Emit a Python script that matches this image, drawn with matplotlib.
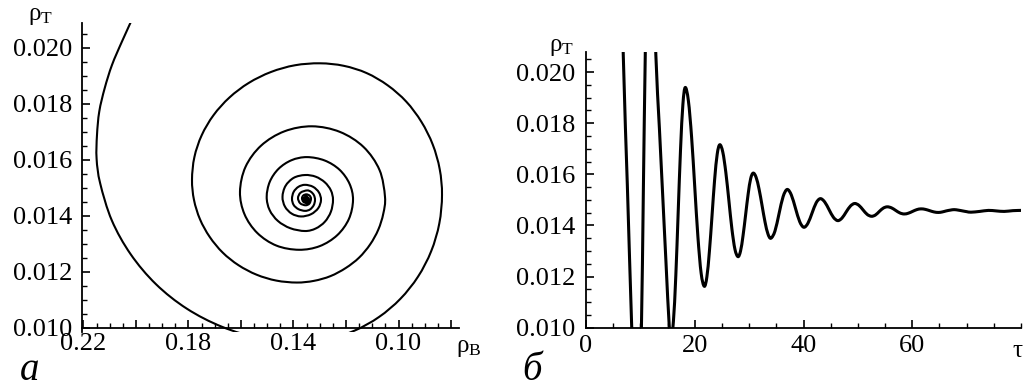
import matplotlib
matplotlib.use("Agg")
import matplotlib.pyplot as plt
from matplotlib.path import Path
from matplotlib.patches import PathPatch
from matplotlib.ticker import FixedLocator, MultipleLocator, FuncFormatter

plt.rcParams['font.family'] = ['Liberation Serif', 'DejaVu Serif']
plt.rcParams['mathtext.fontset'] = 'custom'
plt.rcParams['mathtext.rm'] = 'Liberation Serif'
plt.rcParams['mathtext.it'] = 'Liberation Serif:italic'

# ---- panel a: phase trajectory (rho_B, rho_T), read along the spiral ----
phase_rhoB = [0.20054, 0.20530, 0.20911, 0.21189, 0.21395, 0.21482, 0.21497, 0.21360, 0.20918, 0.20199,
              0.19235, 0.18066, 0.16722, 0.15264, 0.13752, 0.12697, 0.11680, 0.10743, 0.09928, 0.09258,
              0.08756, 0.08447, 0.08344, 0.08432, 0.08698, 0.09129, 0.09704, 0.10408, 0.11212, 0.12084,
              0.12990,
              0.13942, 0.14856, 0.15701, 0.16436, 0.17042, 0.17495, 0.17773, 0.17864, 0.17788, 0.17560,
              0.17190, 0.16695, 0.16094, 0.15404, 0.14654, 0.13877, 0.13222, 0.12590, 0.12008, 0.11501,
              0.11082, 0.10770, 0.10580, 0.10515,
              0.10724, 0.11330, 0.12232, 0.13295, 0.14346, 0.15233, 0.15827, 0.16037, 0.15865, 0.15378,
              0.14650, 0.13790, 0.13002, 0.12335, 0.11890, 0.11733, 0.11867, 0.12248, 0.12815, 0.13485,
              0.14072, 0.14570, 0.14902, 0.15020, 0.14909, 0.14593, 0.14121, 0.13561, 0.13154, 0.12807,
              0.12575, 0.12495, 0.12575, 0.12807, 0.13154, 0.13561, 0.13990, 0.14304, 0.14418, 0.14323,
              0.14066, 0.13714, 0.13333, 0.13055, 0.12952, 0.13032, 0.13257, 0.13561, 0.13809, 0.13992,
              0.14056, 0.13992, 0.13809, 0.13561, 0.13371, 0.13230, 0.13180, 0.13222, 0.13333, 0.13485,
              0.13729, 0.13828, 0.13744, 0.13542, 0.13394, 0.13333, 0.13382, 0.13504, 0.13626, 0.13676,
              0.13630, 0.13523, 0.13443, 0.13409, 0.13523, 0.13618, 0.13523, 0.13447, 0.13523, 0.13580,
              0.13523, 0.13485, 0.13523]
phase_rhoT = [0.02121, 0.02023, 0.01939, 0.01856, 0.01773, 0.01689, 0.01604, 0.01516, 0.01384, 0.01263,
              0.01156, 0.01069, 0.01004, 0.00963, 0.00950, 0.00960, 0.00990, 0.01039, 0.01104, 0.01183,
              0.01274, 0.01373, 0.01475, 0.01567, 0.01655, 0.01736, 0.01808, 0.01866, 0.01910, 0.01936,
              0.01945,
              0.01938, 0.01914, 0.01875, 0.01823, 0.01760, 0.01688, 0.01610, 0.01529, 0.01457, 0.01388,
              0.01325, 0.01269, 0.01224, 0.01190, 0.01169, 0.01162, 0.01168, 0.01185, 0.01214, 0.01251,
              0.01298, 0.01351, 0.01408, 0.01468,
              0.01564, 0.01646, 0.01700, 0.01720, 0.01702, 0.01651, 0.01575, 0.01486, 0.01406, 0.01339,
              0.01294, 0.01279, 0.01292, 0.01331, 0.01389, 0.01457, 0.01515, 0.01565, 0.01598, 0.01610,
              0.01599, 0.01568, 0.01522, 0.01468, 0.01421, 0.01382, 0.01356, 0.01346, 0.01355, 0.01379,
              0.01415, 0.01457, 0.01491, 0.01520, 0.01540, 0.01546, 0.01536, 0.01507, 0.01468, 0.01433,
              0.01408, 0.01398, 0.01406, 0.01428, 0.01457, 0.01484, 0.01504, 0.01511, 0.01504, 0.01486,
              0.01461, 0.01439, 0.01424, 0.01418, 0.01423, 0.01438, 0.01457, 0.01474, 0.01486, 0.01491,
              0.01483, 0.01464, 0.01445, 0.01438, 0.01444, 0.01461, 0.01472, 0.01477, 0.01473, 0.01463,
              0.01451, 0.01446, 0.01449, 0.01460, 0.01470, 0.01459, 0.01452, 0.01460, 0.01465, 0.01460,
              0.01455, 0.01460, 0.01460]

# ---- panel b: rho_T versus tau ----
tau = [5.8, 6.85, 7.6, 8.38, 8.8, 9.3, 9.8, 10.2, 10.55, 10.9, 11.3, 11.9, 12.4, 12.84, 13.5, 14.1, 14.7, 15.3, 15.65,
       16.08, 16.52, 16.95, 17.38, 17.82, 18.25,
       18.83, 19.42, 20.0, 20.58, 21.17, 21.75,
       22.23, 22.7, 23.18, 23.65, 24.13, 24.6,
       25.16, 25.72, 26.28, 26.83, 27.39, 27.95,
       28.42, 28.88, 29.35, 29.82, 30.28, 30.75,
       31.29, 31.83, 32.38, 32.92, 33.46, 34.0,
       34.75, 35.5, 36.25, 37.0,
       37.77, 38.53, 39.3, 40.06,
       40.82, 41.58, 42.34, 43.1,
       43.9, 44.7, 45.5, 46.3,
       47.08, 47.85, 48.63, 49.4,
       50.18, 50.95, 51.73, 52.5,
       53.23, 53.95, 54.68, 55.4,
       56.18, 56.95, 57.73, 58.5,
       59.28, 60.05, 60.83, 61.6,
       62.4, 63.2, 64.0, 64.8,
       65.53, 66.25, 66.98, 67.7,
       68.48, 69.25, 70.03, 70.8,
       72.4, 74.0, 75.45, 76.9, 78.5, 80.0]
rhoT = [0.0300, 0.0207, 0.0156, 0.0102, 0.0080, 0.0068, 0.0078, 0.0101, 0.0154, 0.0207, 0.0250, 0.0268, 0.0245, 0.0207, 0.0178, 0.0152, 0.0126, 0.0101, 0.0096,
        0.01026, 0.01205, 0.0145, 0.01695, 0.01874, 0.0194,
        0.01888, 0.01746, 0.01551, 0.01356, 0.01214, 0.01162,
        0.01199, 0.0130, 0.01439, 0.01578, 0.01679, 0.01716,
        0.01687, 0.01607, 0.01497, 0.01387, 0.01307, 0.01278,
        0.0130, 0.0136, 0.01441, 0.01523, 0.01583, 0.01605,
        0.01588, 0.01542, 0.01478, 0.01414, 0.01367, 0.0135,
        0.01378, 0.01446, 0.01513, 0.01541,
        0.01519, 0.01467, 0.01415, 0.01393,
        0.01409, 0.01449, 0.01489, 0.01505,
        0.01492, 0.01462, 0.01432, 0.01419,
        0.01429, 0.01453, 0.01476, 0.01486,
        0.01479, 0.01461, 0.01443, 0.01436,
        0.01441, 0.01455, 0.01468, 0.01473,
        0.01469, 0.01459, 0.01449, 0.01445,
        0.01448, 0.01455, 0.01462, 0.01465,
        0.01463, 0.01458, 0.01453, 0.01451,
        0.01453, 0.01457, 0.0146, 0.01462,
        0.0146, 0.01457, 0.01454, 0.01452,
        0.01455, 0.01459, 0.01457, 0.01455, 0.01458, 0.01459]

xa_major = [0.22, 0.20, 0.18, 0.16, 0.14, 0.12, 0.10, 0.08]
xa_labels = {0.22: '0.22', 0.18: '0.18', 0.14: '0.14', 0.10: '0.10'}
y_major = [0.010, 0.012, 0.014, 0.016, 0.018, 0.020]
xb_major = [0, 20, 40, 60]

W, H = 1032, 387
fig = plt.figure(figsize=(W / 100, H / 100), dpi=100)

TICK_FS = 19
LAB_FS = 18


def smooth_curve(ax, xs, ys, lw):
    """Draw a smooth (Catmull-Rom / cubic Bezier) curve through the data points."""
    n = len(xs)
    verts = [(xs[0], ys[0])]
    codes = [Path.MOVETO]
    for i in range(n - 1):
        x0, y0 = (xs[i - 1], ys[i - 1]) if i > 0 else (xs[i], ys[i])
        x1, y1 = xs[i], ys[i]
        x2, y2 = xs[i + 1], ys[i + 1]
        x3, y3 = (xs[i + 2], ys[i + 2]) if i + 2 < n else (x2, y2)
        verts += [(x1 + (x2 - x0) / 6, y1 + (y2 - y0) / 6),
                  (x2 - (x3 - x1) / 6, y2 - (y3 - y1) / 6),
                  (x2, y2)]
        codes += [Path.CURVE4] * 3
    patch = PathPatch(Path(verts, codes), facecolor='none', edgecolor='black',
                      lw=lw, joinstyle='round', capstyle='butt')
    ax.add_patch(patch)


def style(ax):
    for s in ('top', 'right'):
        ax.spines[s].set_visible(False)
    for s in ('left', 'bottom'):
        ax.spines[s].set_linewidth(1.3)
    ax.tick_params(which='major', direction='in', length=5.5, width=1.2, labelsize=TICK_FS)
    ax.tick_params(which='minor', direction='in', length=3.5, width=1.0)


# panel a
ax1 = fig.add_axes([82 / W, (H - 332.1) / H, (459 - 82) / W, 309.4 / H])
smooth_curve(ax1, phase_rhoB, phase_rhoT, 1.5)
ax1.set_xlim(0.22053, 0.07697)
ax1.set_ylim(0.00985, 0.0209)
style(ax1)
ax1.spines['bottom'].set_position(('data', 0.010))
ax1.xaxis.set_major_locator(FixedLocator(xa_major))
ax1.xaxis.set_major_formatter(FuncFormatter(
    lambda v, p: next((t for k, t in xa_labels.items() if abs(k - v) < 1e-6), '')))
ax1.xaxis.set_minor_locator(MultipleLocator(0.005))
ax1.yaxis.set_major_locator(FixedLocator(y_major))
ax1.yaxis.set_major_formatter(FuncFormatter(lambda v, p: f'{v:.3f}'))
ax1.yaxis.set_minor_locator(MultipleLocator(0.0005))
ax1.tick_params(axis='x', pad=4)
ax1.tick_params(axis='y', pad=7)

# panel b
ax2 = fig.add_axes([586 / W, (H - 327.7) / H, (1021 - 586) / W, 276 / H])
smooth_curve(ax2, tau, rhoT, 2.2)
ax2.set_xlim(0, 80)
ax2.set_ylim(0.010, 0.0208)
style(ax2)
ax2.xaxis.set_major_locator(FixedLocator(xb_major))
ax2.xaxis.set_minor_locator(MultipleLocator(5))
ax2.yaxis.set_major_locator(FixedLocator(y_major))
ax2.yaxis.set_major_formatter(FuncFormatter(lambda v, p: f'{v:.3f}'))
ax2.yaxis.set_minor_locator(MultipleLocator(0.0005))
ax2.tick_params(axis='x', pad=5)
ax2.tick_params(axis='y', pad=8)

# axis labels
fig.text(28 / W, 1 - 5 / H, r'$\mathrm{ρ}_{\mathrm{T}}$', fontsize=LAB_FS, ha='left', va='top')
fig.text(456 / W, 1 - 337 / H, r'$\mathrm{ρ}_{\mathrm{B}}$', fontsize=LAB_FS, ha='left', va='top')
fig.text(549 / W, 1 - 36 / H, r'$\mathrm{ρ}_{\mathrm{T}}$', fontsize=LAB_FS, ha='left', va='top')
fig.text(1018 / W, 1 - 357 / H, r'$\mathrm{τ}$', fontsize=LAB_FS, ha='center', va='baseline')

# panel letters
fig.text(20 / W, 1 - 380 / H, 'а', fontsize=28, style='italic', ha='left', va='baseline')
fig.text(522 / W, 1 - 380 / H, 'б', fontsize=28, style='italic', ha='left', va='baseline')

fig.savefig('out.png', dpi=100)
